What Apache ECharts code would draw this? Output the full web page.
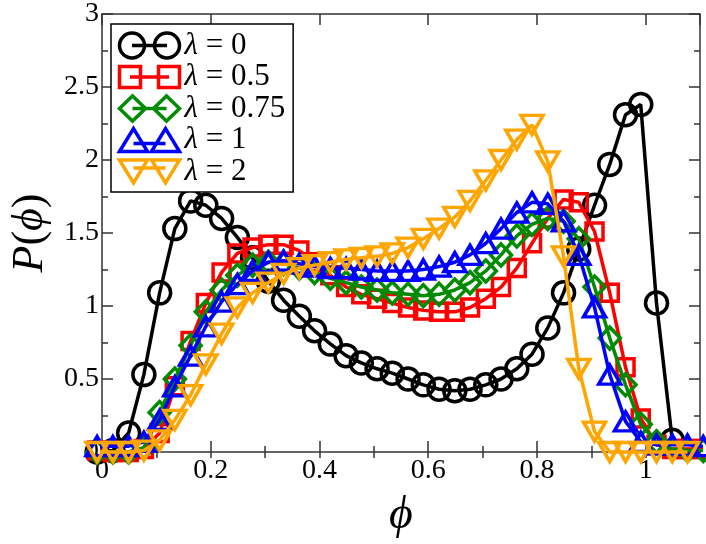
<!DOCTYPE html>
<html>
<head>
<meta charset="utf-8">
<script src="https://cdn.jsdelivr.net/npm/echarts@6/dist/echarts.min.js"></script>
<style>
  html, body { margin: 0; padding: 0; background: #fff; }
  #chart { width: 706px; height: 544px; }
</style>
</head>
<body>
<div id="chart"></div>
<script>
  // bin centres (phi) shared by every curve
  var phi = [-0.009, 0.020, 0.049, 0.077, 0.106, 0.134, 0.163, 0.191, 0.220, 0.249,
             0.277, 0.306, 0.334, 0.363, 0.391, 0.420, 0.449, 0.477, 0.506, 0.534,
             0.563, 0.591, 0.620, 0.649, 0.677, 0.706, 0.734, 0.763, 0.791, 0.820,
             0.849, 0.877, 0.906, 0.934, 0.963, 0.991, 1.020, 1.049, 1.077, 1.106];

  var lambdas = ['0', '0.5', '0.75', '1', '2'];

  var pLam0 = [0.00, 0.01, 0.13, 0.53, 1.09, 1.53, 1.72, 1.69, 1.60, 1.47,
               1.33, 1.17, 1.04, 0.93, 0.83, 0.74, 0.66, 0.61, 0.57, 0.54,
               0.50, 0.46, 0.43, 0.42, 0.43, 0.46, 0.50, 0.57, 0.67, 0.85,
               1.09, 1.39, 1.69, 1.97, 2.31, 2.38, 1.02, 0.08, null, null];
  var pLam05 = [0.01, 0.00, 0.00, 0.02, 0.13, 0.45, 0.76, 1.02, 1.23, 1.36,
                1.40, 1.42, 1.42, 1.38, 1.30, 1.21, 1.13, 1.08, 1.05, 1.02,
                0.99, 0.97, 0.96, 0.96, 0.99, 1.05, 1.13, 1.26, 1.43, 1.60,
                1.73, 1.71, 1.51, 1.09, 0.58, 0.23, 0.05, 0.02, 0.02, 0.02];
  var pLam075 = [0.00, 0.00, 0.00, 0.03, 0.27, 0.50, 0.73, 0.96, 1.11, 1.21,
                 1.28, 1.30, 1.29, 1.26, 1.23, 1.19, 1.16, 1.13, 1.11, 1.09,
                 1.08, 1.07, 1.08, 1.11, 1.16, 1.24, 1.35, 1.48, 1.56, 1.60,
                 1.58, 1.46, 1.13, 0.78, 0.46, 0.19, 0.07, 0.02, 0.01, 0.01];
  var pLam1 = [0.04, 0.04, 0.04, 0.07, 0.22, 0.45, 0.66, 0.86, 1.03, 1.15,
               1.24, 1.30, 1.31, 1.29, 1.27, 1.26, 1.26, 1.25, 1.24, 1.24,
               1.24, 1.25, 1.27, 1.30, 1.35, 1.43, 1.53, 1.64, 1.71, 1.70,
               1.58, 1.35, 0.99, 0.53, 0.21, 0.07, 0.05, 0.05, 0.05, 0.04];
  var pLam2 = [0.00, 0.00, 0.00, 0.01, 0.08, 0.22, 0.39, 0.60, 0.81, 0.99,
               1.09, 1.16, 1.22, 1.26, 1.28, 1.30, 1.32, 1.33, 1.34, 1.36,
               1.40, 1.46, 1.53, 1.61, 1.72, 1.86, 2.00, 2.14, 2.24, 1.99,
               1.34, 0.57, 0.14, 0.00, 0.00, 0.00, 0.00, 0.00, 0.00, null];

  var curves = [pLam0, pLam05, pLam075, pLam1, pLam2];
  var colors = ['#000000', '#ff0000', '#008b00', '#0000ff', '#ffa500'];
  var symbols = ['circle', 'rect', 'diamond', 'triangle', 'triangle'];
  var symbolRotate = [0, 0, 0, 0, 180];
  var symbolSizes = [22, 17, [21, 22], [22, 19], [22, 19]];

  // two-symbols-and-a-line legend keys, like the original plot
  var legendIcons = [
    'path://M0,12.5 A12.5,12.5 0 1,1 25,12.5 A12.5,12.5 0 1,1 0,12.5 Z M35,12.5 A12.5,12.5 0 1,1 60,12.5 A12.5,12.5 0 1,1 35,12.5 Z M12.5,12.5 L47.5,12.5',
    'path://M0,2 L21,2 L21,23 L0,23 Z M39,2 L60,2 L60,23 L39,23 Z M10.5,12.5 L49.5,12.5',
    'path://M0,12.5 L13,0 L26,12.5 L13,25 Z M34,12.5 L47,0 L60,12.5 L47,25 Z M13,12.5 L47,12.5',
    'path://M0,24 L14,1 L28,24 Z M32,24 L46,1 L60,24 Z M14,16 L46,16',
    'path://M0,1 L14,24 L28,1 Z M32,1 L46,24 L60,1 Z M14,9 L46,9'
  ];

  var serif = "'Liberation Serif', 'Times New Roman', 'DejaVu Serif', serif";
  var axisColor = '#333';
  var lw = 3.5;

  var chart = echarts.init(document.getElementById('chart'));

  var series = curves.map(function (ys, i) {
    var pts = [];
    ys.forEach(function (y, j) {
      if (y !== null) pts.push([phi[j], y]);
    });
    return {
      name: 'λ = ' + lambdas[i],
      type: 'line',
      data: pts,
      symbol: symbols[i],
      symbolSize: symbolSizes[i],
      symbolRotate: symbolRotate[i],
      showAllSymbol: true,
      clip: false,
      color: colors[i],
      lineStyle: { color: colors[i], width: lw },
      itemStyle: { color: 'none', borderColor: colors[i], borderWidth: lw },
      emphasis: { disabled: true },
      z: 2 + i
    };
  });

  function tickAxis(pos, step, len, extra) {
    var ax = {
      type: 'value',
      position: pos,
      min: 0,
      max: 1.1,
      interval: step,
      axisLine: { show: false },
      axisTick: { inside: true, length: len, lineStyle: { color: axisColor, width: 1.5 } },
      axisLabel: { show: false },
      splitLine: { show: false }
    };
    return Object.assign(ax, extra || {});
  }

  var option = {
    backgroundColor: '#fff',
    animation: false,
    grid: { left: 94, right: 6, top: 13, bottom: 80 },
    legend: {
      orient: 'vertical',
      left: 111,
      top: 24,
      padding: [6, 8, 5, 6],
      itemGap: 0.5,
      itemWidth: 60,
      itemHeight: 25,
      itemTextGap: 6,
      backgroundColor: '#fff',
      borderColor: '#000',
      borderWidth: 1.5,
      selectedMode: false,
      data: lambdas.map(function (l, i) {
        return {
          name: 'λ = ' + l,
          icon: legendIcons[i],
          itemStyle: { color: 'none', borderColor: colors[i], borderWidth: lw }
        };
      }),
      formatter: function (name) {
        return '{i|λ}{t|' + name.slice(1) + '}';
      },
      textStyle: {
        rich: {
          i: { fontFamily: serif, fontStyle: 'italic', fontSize: 31, lineHeight: 29, color: '#000' },
          t: { fontFamily: serif, fontSize: 31, lineHeight: 29, color: '#000' }
        }
      }
    },
    xAxis: [
      tickAxis('bottom', 0.2, 11, {
        axisLine: { show: true, onZero: false, lineStyle: { color: axisColor, width: 1.5 } },
        axisLabel: {
          show: true, margin: 5, fontSize: 28, fontFamily: serif, color: '#000',
          showMaxLabel: false,
          formatter: function (v) { return String(Math.round(v * 10) / 10); }
        },
        name: 'ϕ',
        nameLocation: 'middle',
        nameGap: 41,
        nameTextStyle: { fontFamily: serif, fontStyle: 'italic', fontSize: 46, color: '#000' }
      }),
      tickAxis('bottom', 0.1, 6),
      tickAxis('top', 0.2, 11, {
        axisLine: { show: true, onZero: false, lineStyle: { color: axisColor, width: 1.5 } }
      }),
      tickAxis('top', 0.1, 6)
    ],
    yAxis: [
      {
        type: 'value',
        position: 'left',
        min: 0,
        max: 3,
        interval: 0.5,
        axisLine: { show: true, onZero: false, lineStyle: { color: axisColor, width: 1.5 } },
        axisTick: { inside: true, length: 11, lineStyle: { color: axisColor, width: 1.5 } },
        minorTick: { show: true, splitNumber: 2, length: 6, lineStyle: { color: axisColor, width: 1.5 } },
        axisLabel: {
          margin: 3, fontSize: 28, fontFamily: serif, color: '#000',
          formatter: function (v) { return String(v); }
        },
        splitLine: { show: false },
        minorSplitLine: { show: false },
        name: '{i|P}{u|(}{i|ϕ}{u|)}',
        nameLocation: 'middle',
        nameGap: 50,
        nameTextStyle: {
          rich: {
            i: { fontFamily: serif, fontStyle: 'italic', fontSize: 44, color: '#000' },
            u: { fontFamily: serif, fontSize: 44, color: '#000' }
          }
        }
      },
      {
        type: 'value',
        position: 'right',
        min: 0,
        max: 3,
        interval: 0.5,
        axisLine: { show: true, onZero: false, lineStyle: { color: axisColor, width: 1.5 } },
        axisTick: { inside: true, length: 11, lineStyle: { color: axisColor, width: 1.5 } },
        minorTick: { show: true, splitNumber: 2, length: 6, lineStyle: { color: axisColor, width: 1.5 } },
        axisLabel: { show: false },
        splitLine: { show: false }
      }
    ],
    series: series
  };

  chart.setOption(option);
</script>
</body>
</html>
